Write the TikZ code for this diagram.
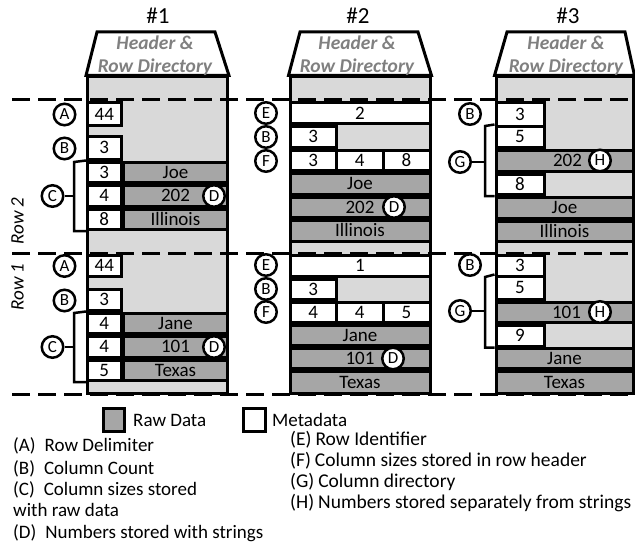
\documentclass[tikz,border=0pt]{standalone}
\usepackage{fontspec}
\setmainfont{Carlito}
\usetikzlibrary{calc}
\definecolor{lightg}{RGB}{217,217,217}
\definecolor{darkg}{RGB}{166,166,166}
\definecolor{hdrg}{RGB}{128,128,128}
\newcommand\cellfont{\fontsize{19}{20}\selectfont}
\newcommand\tagfont{\fontsize{17}{18}\selectfont}
\newcommand\hdrfont{\fontsize{19.5}{20}\selectfont\bfseries\itshape}
\newcommand\ttlfont{\fontsize{23}{25}\selectfont}
\newcommand\legfont{\fontsize{19}{20}\selectfont}
\newcommand\legfontb{\fontsize{19.5}{20}\selectfont}
\newcommand\mybox[7]{%
  \pgfmathsetmacro\myW{#5-#3}\pgfmathsetmacro\myH{#6-#4}%
  \node[#1, minimum width=\myW pt, minimum height=\myH pt] (#2) at ({(#3+#5)/2},{(#4+#6)/2}) {#7};}
\tikzset{
  bodybox/.style={draw, line width=3pt, fill=lightg, inner sep=0pt},
  metabox/.style={draw, line width=3pt, fill=white, inner sep=0pt, font=\cellfont, text height=12pt, text depth=0pt},
  rawbox/.style={metabox, fill=darkg},
  tag/.style={circle, draw, line width=2.5pt, fill=white, minimum size=21.5pt, inner sep=0pt, font=\tagfont},
  dashline/.style={line width=3pt, dash pattern=on 18pt off 8pt},
  bracketline/.style={line width=2.5pt},
  hdr/.style={font=\hdrfont, text=hdrg, inner sep=0pt, text height=12.5pt, text depth=0pt},
  ttl/.style={font=\ttlfont, inner sep=0pt, text height=15pt, text depth=0pt},
  legtext/.style={anchor=base west, font=\legfont, inner sep=0pt},
  legtextb/.style={anchor=base west, font=\legfontb, inner sep=0pt},
  trap/.style={draw, line width=3pt, fill=white, line join=miter},
}
\begin{document}
\begin{tikzpicture}[x=1pt,y=-1pt]
\useasboundingbox (0,0) rectangle (635,551);

% titles
\node[ttl] (t1) at (158,16) {\#1};
\node[ttl] (t2) at (358,16) {\#2};
\node[ttl] (t3) at (568,16) {\#3};

% bodies
\mybox{bodybox}{b1body}{87.5}{77}{227.5}{393}{}
\mybox{bodybox}{b2body}{290}{77}{430}{393}{}
\mybox{bodybox}{b3body}{496}{77}{633}{393}{}

% header trapezoids
\draw[trap] (b1body.north west) -- (97,32) -- (215,32) -- (b1body.north east) -- cycle;
\draw[trap] (b2body.north west) -- (300,32) -- (418,32) -- (b2body.north east) -- cycle;
\draw[trap] (b3body.north west) -- (507,32) -- (625,32) -- (b3body.north east) -- cycle;
\node[hdr] (h1a) at (155,43.5) {Header \&};
\node[hdr] (h1b) at (155,66) {Row Directory};
\node[hdr] (h2a) at (357,43.5) {Header \&};
\node[hdr] (h2b) at (357,66) {Row Directory};
\node[hdr] (h3a) at (566,43.5) {Header \&};
\node[hdr] (h3b) at (566,66) {Row Directory};

% dashed row separators
\coordinate (dl1) at (12,100);   \coordinate (dr1) at (635,100);
\coordinate (dl2) at (12,253.3); \coordinate (dr2) at (635,253.3);
\coordinate (dl3) at (12,394.3); \coordinate (dr3) at (635,394.3);
\draw[dashline] (dl1) -- (dr1);
\draw[dashline] (dl2) -- (dr2);
\draw[dashline] (dl3) -- (dr3);

% row labels
\node[rotate=90, font=\legfont\itshape, inner sep=0pt] (row2) at (17.5,221) {Row 2};
\node[rotate=90, font=\legfont\itshape, inner sep=0pt] (row1) at (17.5,287) {Row 1};

% ===== Block 1 =====
% row 2
\mybox{metabox}{b1a2}{87.5}{103}{121}{125.5}{44}
\mybox{metabox}{b1b2}{87.5}{136.5}{121}{159}{3}
\mybox{metabox}{b1s21}{87.5}{162}{121}{182.5}{3}
\mybox{rawbox}{b1d21}{123.5}{162}{227.5}{182.5}{Joe}
\mybox{metabox}{b1s22}{87.5}{185.5}{121}{206}{4}
\mybox{rawbox}{b1d22}{123.5}{185.5}{227.5}{206}{202}
\mybox{metabox}{b1s23}{87.5}{209}{121}{229.5}{8}
\mybox{rawbox}{b1d23}{123.5}{209}{227.5}{229.5}{Illinois}
% row 1
\mybox{metabox}{b1a1}{87.5}{255}{121}{276.5}{44}
\mybox{metabox}{b1b1}{87.5}{289}{121}{310}{3}
\mybox{metabox}{b1s11}{87.5}{313}{121}{333.5}{4}
\mybox{rawbox}{b1d11}{123.5}{313}{227.5}{333.5}{Jane}
\mybox{metabox}{b1s12}{87.5}{336.5}{121}{357}{4}
\mybox{rawbox}{b1d12}{123.5}{336.5}{227.5}{357}{101}
\mybox{metabox}{b1s13}{87.5}{360}{121}{380.5}{5}
\mybox{rawbox}{b1d13}{123.5}{360}{227.5}{380.5}{Texas}

% ===== Block 2 =====
% row 2
\mybox{metabox}{b2e2}{290}{103}{430}{123.5}{2}
\mybox{metabox}{b2b2}{290}{126.5}{336.5}{147}{3}
\mybox{metabox}{b2f21}{290}{150}{336.5}{170.5}{3}
\mybox{metabox}{b2f22}{336.5}{150}{383}{170.5}{4}
\mybox{metabox}{b2f23}{383}{150}{430}{170.5}{8}
\mybox{rawbox}{b2d21}{290}{173.5}{430}{194}{Joe}
\mybox{rawbox}{b2d22}{290}{197}{430}{217.5}{202}
\mybox{rawbox}{b2d23}{290}{220.5}{430}{241}{Illinois}
% row 1
\mybox{metabox}{b2e1}{290}{255}{430}{276}{1}
\mybox{metabox}{b2b1}{290}{279}{336.5}{299}{3}
\mybox{metabox}{b2f11}{290}{302.5}{336.5}{322.5}{4}
\mybox{metabox}{b2f12}{336.5}{302.5}{383}{322.5}{4}
\mybox{metabox}{b2f13}{383}{302.5}{430}{322.5}{5}
\mybox{rawbox}{b2d11}{290}{325.5}{430}{345.5}{Jane}
\mybox{rawbox}{b2d12}{290}{348.5}{430}{368.5}{101}
\mybox{rawbox}{b2d13}{290}{371.5}{430}{393}{Texas}

% ===== Block 3 =====
% row 2
\mybox{metabox}{b3b2}{496}{103}{544}{126}{3}
\mybox{metabox}{b3g21}{496}{126}{544}{147}{5}
\mybox{rawbox}{b3n2}{496}{150}{633}{171}{\hspace*{6pt}202}
\mybox{metabox}{b3g22}{496}{174}{544}{194.5}{8}
\mybox{rawbox}{b3d21}{496}{197.5}{633}{218}{Joe}
\mybox{rawbox}{b3d22}{496}{221}{633}{241}{Illinois}
% row 1
\mybox{metabox}{b3b1}{496}{255}{544}{276}{3}
\mybox{metabox}{b3g11}{496}{276}{544}{299}{5}
\mybox{rawbox}{b3n1}{496}{302}{633}{322}{\hspace*{4pt}101}
\mybox{metabox}{b3g12}{496}{325}{544}{346}{9}
\mybox{rawbox}{b3d11}{496}{348.5}{633}{368.5}{Jane}
\mybox{rawbox}{b3d12}{496}{371.5}{633}{393}{Texas}

% ===== tags =====
\node[tag] (tA2) at (64.5,114.5) {A};
\node[tag] (tB2) at (64.5,148.5) {B};
\node[tag] (tC2) at (52.5,196) {C};
\node[tag] (tD2) at (214,196) {D};
\node[tag] (tA1) at (64.5,266) {A};
\node[tag] (tB1) at (64.5,300.5) {B};
\node[tag] (tC1) at (52.5,347) {C};
\node[tag] (tD1) at (214,347) {D};

\node[tag] (uE2) at (266,113) {E};
\node[tag] (uB2) at (266,137) {B};
\node[tag] (uF2) at (266,161) {F};
\node[tag] (uE1) at (266,265) {E};
\node[tag] (uB1) at (266,289) {B};
\node[tag] (uF1) at (266,312) {F};
\node[tag] (uD2) at (394,207) {D};
\node[tag] (uD1) at (393,358.5) {D};

\node[tag] (vB2) at (470,114) {B};
\node[tag] (vG2) at (460,162) {G};
\node[tag] (vH2) at (600,160.5) {H};
\node[tag] (vB1) at (470,265) {B};
\node[tag] (vG1) at (460,311) {G};
\node[tag] (vH1) at (600,312) {H};

% ===== brackets =====
\coordinate (kc2) at (74,162);
\draw[bracketline] (b1s21.north west) -- (kc2) -- (kc2 |- b1s23.south west) -- (b1s23.south west);
\draw[bracketline] (tC2.east) -- (tC2.east -| kc2);
\coordinate (kc1) at (74,313);
\draw[bracketline] (b1s11.north west) -- (kc1) -- (kc1 |- b1s13.south west) -- (b1s13.south west);
\draw[bracketline] (tC1.east) -- (tC1.east -| kc1);

\coordinate (kg2) at (485,126);
\draw[bracketline] (b3g21.north west) -- (kg2) -- (kg2 |- b3g22.south west) -- (b3g22.south west);
\draw[bracketline] (vG2.east) -- (vG2.east -| kg2);
\coordinate (kg1) at (485,277);
\draw[bracketline] (b3g11.north west) -- (kg1) -- (kg1 |- b3g12.south west) -- (b3g12.south west);
\draw[bracketline] (vG1.east) -- (vG1.east -| kg1);

% ===== legend =====
\mybox{rawbox}{legraw}{103.5}{408.5}{124.5}{431.5}{}
\mybox{metabox}{legmeta}{243.5}{408.5}{265.5}{431.5}{}
\node[legtext] (lraw) at (133,426.5) {Raw Data};
\node[legtext] (lmeta) at (272,426.5) {Metadata};

\node[legtext] (lA) at (13,451.7) {(A)\hspace{9pt}Row Delimiter};
\node[legtext] (lB) at (13,474) {(B)\hspace{9pt}Column Count};
\node[legtext] (lC) at (13,495.7) {(C)\hspace{9pt}Column sizes stored};
\node[legtext] (lC2) at (13,516.7) {with raw data};
\node[legtext] (lD) at (13,538.3) {(D)\hspace{9pt}Numbers stored with strings};

\node[legtextb] (lE) at (290,445.7) {(E)\hspace{4pt}Row Identifier};
\node[legtextb] (lF) at (290,466.7) {(F)\hspace{4pt}Column sizes stored in row header};
\node[legtextb] (lG) at (290,487.3) {(G)\hspace{4pt}Column directory};
\node[legtextb] (lH) at (290,508.3) {(H)\hspace{4pt}Numbers stored separately from strings};
\end{tikzpicture}
\end{document}
